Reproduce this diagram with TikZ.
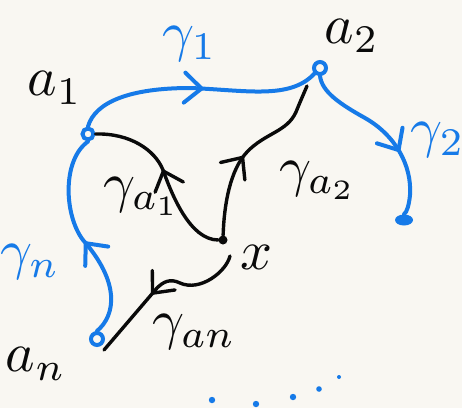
\documentclass[tikz,border=0pt]{standalone}
\usetikzlibrary{decorations.markings,shapes.geometric}
\definecolor{penblue}{RGB}{22,122,232}
\definecolor{paper}{RGB}{249,247,242}
\definecolor{ink}{RGB}{10,10,10}
% large handwritten-size math label
\newcommand{\biglbl}[1]{\scalebox{5.6}{$#1$}}
\tikzset{
  bluepath/.style={draw=penblue, line width=4pt, line cap=round, line join=round},
  blackpath/.style={draw=ink, line width=3.4pt, line cap=round, line join=round},
  % open hand-drawn chevron placed along a path, pointing forward
  midarrow/.style={postaction={decorate, decoration={markings,
      mark=at position #1 with {\draw[line cap=round, line join=round]
        (-17pt,15pt) -- (0pt,0pt) -- (-17pt,-15pt);}}}},
  ring/.style={circle, draw=penblue, line width=4pt, inner sep=0pt, minimum size=#1},
  blackdot/.style={circle, fill=ink, inner sep=0pt, minimum size=9pt},
  enddot/.style={ellipse, fill=penblue, inner sep=0pt, minimum width=18pt, minimum height=11pt},
  lbl/.style={text=ink, inner sep=0pt},
  bluelbl/.style={text=penblue, inner sep=0pt},
}
\begin{document}
\begin{tikzpicture}[x=1pt, y=-1pt]
  % sheet
  \fill[paper] (0,0) rectangle (462,408);
  \useasboundingbox (0,0) rectangle (462,408);

  % marked points
  \node[ring=11pt] (a1) at (88,134) {};
  \node[ring=12pt] (a2) at (320,68) {};
  \node[ring=12pt] (an) at (97,339) {};
  \node[enddot] (g2end) at (404,220) {};
  \node[blackdot] (x) at (223,240) {};
  \coordinate (a2near) at (307,86);
  \coordinate (xnear) at (230,256);
  \coordinate (annear) at (104,350);

  % blue loops through the points
  \draw[bluepath, midarrow=0.52] (a1.north) .. controls (95,102) and (130,88) .. (190,88)
        .. controls (245,90) and (290,100) .. (a2.south west);
  \draw[bluepath, midarrow=0.62] (a2.south) .. controls (322,92) and (340,104) .. (365,118)
        .. controls (395,135) and (412,165) .. (410,195) .. controls (409,205) and (407,212) .. (g2end.north);
  \draw[bluepath, midarrow=0.47] (an.north) .. controls (116,315) and (120,282) .. (83,240)
        .. controls (64,215) and (62,160) .. (a1.south);

  % black paths out of x
  \draw[blackpath, midarrow=0.53] (x) .. controls (190,240) and (172,195) .. (163,170)
        .. controls (155,150) and (130,133) .. (a1.east);
  \draw[blackpath, midarrow=0.45] (x) .. controls (224,205) and (230,170) .. (247,152)
        .. controls (265,133) and (287,132) .. (296,112) .. controls (300,102) and (304,93) .. (a2near);
  \draw[blackpath, midarrow=0.56] (xnear) .. controls (226,272) and (200,292) .. (180,283)
        .. controls (170,278) and (163,282) .. (157,288) -- (annear);

  % labels
  \node[lbl] (la1) at (55,88) {\biglbl{a_{1}}};
  \node[lbl] (la2) at (352,36) {\biglbl{a_{2}}};
  \node[lbl] (lan) at (36,364) {\biglbl{a_{n}}};
  \node[lbl] (lx) at (256,257) {\biglbl{x}};
  \node[bluelbl] (lg1) at (190,44) {\biglbl{\gamma_{1}}};
  \node[bluelbl] (lg2) at (438,140) {\biglbl{\gamma_{2}}};
  \node[bluelbl] (lgn) at (30,262) {\biglbl{\gamma_{n}}};
  \node[lbl] (lga1) at (142,196) {\biglbl{\gamma_{a_1}}};
  \node[lbl] (lga2) at (318,180) {\biglbl{\gamma_{a_2}}};
  \node[lbl] (lgan) at (194,332) {\biglbl{\gamma_{an}}};

  % trailing dots
  \foreach \px/\py/\r in {212/400/3.2, 256/404/3.2, 293/397/3.2, 319/389/2.8, 339/377/2}
    \fill[penblue] (\px,\py) circle (\r pt);
\end{tikzpicture}
\end{document}
